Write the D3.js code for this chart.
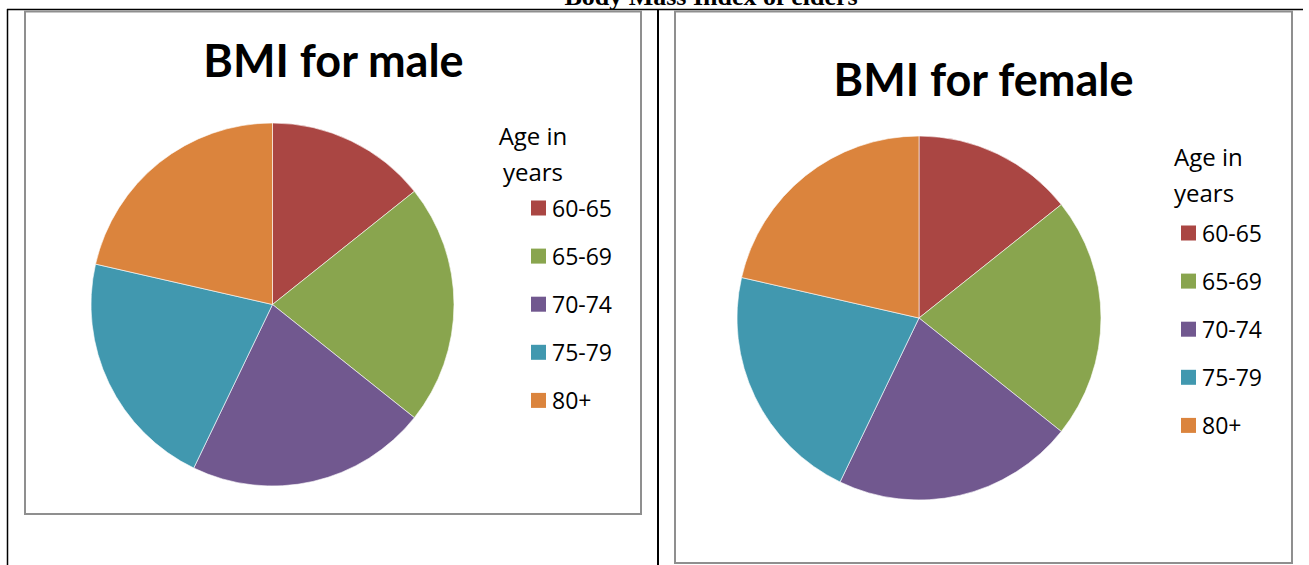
<!DOCTYPE html>
<html>
<head>
<meta charset="utf-8">
<script src="https://cdn.jsdelivr.net/npm/d3@7"></script>
<style>
    body { margin: 0; background: #fff; }
    svg { display: block; }
</style>
</head>
<body>
<svg id="chart"></svg>
<script>
const ageGroups = ["60-65", "65-69", "70-74", "75-79", "80+"]
const maleValues = [2, 3, 3, 3, 3]
const femaleValues = [2, 3, 3, 3, 3]
const sliceColors = ["#AA4643", "#89A54E", "#71588F", "#4198AF", "#DB843D"]

const width = 1309,
    height = 565

const svg = d3.select("#chart")
    .attr("width", width)
    .attr("height", height)

const color = d3.scaleOrdinal()
    .domain(ageGroups)
    .range(sliceColors)

// Document caption, cut off by the top of the page (as in the scan)
svg.append("text")
    .attr("x", 711)
    .attr("y", 5)
    .attr("text-anchor", "middle")
    .style("font-family", "'Liberation Serif', 'Times New Roman', serif")
    .style("font-weight", "bold")
    .style("font-size", "26px")
    .text("Body Mass Index of elders")

// Table lines
const table = svg.append("g")
    .attr("stroke", "#000")
table.append("line").attr("x1", 7).attr("x2", 1303).attr("y1", 9.5).attr("y2", 9.5).attr("stroke-width", 1.5)
table.append("line").attr("x1", 7.5).attr("x2", 7.5).attr("y1", 9).attr("y2", height).attr("stroke-width", 1.5)
table.append("line").attr("x1", 658).attr("x2", 658).attr("y1", 9).attr("y2", height).attr("stroke-width", 2)

const charts = [
    {
        title: "BMI for male", values: maleValues,
        box: [25, 11.5, 641, 514],
        cx: 272.5, cy: 304.5, r: 181.5,
        titleX: 333.5, titleY: 77,
        legendTitle: { x: 533, y: 145, anchor: "middle" },
        legendX: 531, legendY: 208
    },
    {
        title: "BMI for female", values: femaleValues,
        box: [675, 11.5, 1292, 563],
        cx: 919, cy: 318, r: 182,
        titleX: 983.5, titleY: 96,
        legendTitle: { x: 1174, y: 166, anchor: "start" },
        legendX: 1181, legendY: 233
    }
]

const pie = d3.pie()
    .sort(null)
    .value(function (d) { return d.value })

charts.forEach(function (c) {
    const g = svg.append("g")

    // chart area border
    g.append("rect")
        .attr("x", c.box[0])
        .attr("y", c.box[1])
        .attr("width", c.box[2] - c.box[0])
        .attr("height", c.box[3] - c.box[1])
        .attr("fill", "#fff")
        .attr("stroke", "#8f8f8f")
        .attr("stroke-width", 2)

    g.append("text")
        .attr("x", c.titleX)
        .attr("y", c.titleY)
        .attr("text-anchor", "middle")
        .style("font-family", "Lato, 'Open Sans', sans-serif")
        .style("font-weight", "bold")
        .style("font-size", "45px")
        .text(c.title)

    const rows = ageGroups.map(function (a, i) { return { age: a, value: c.values[i] } })
    const arc = d3.arc().innerRadius(0).outerRadius(c.r)

    g.append("g")
        .attr("transform", "translate(" + c.cx + "," + c.cy + ")")
        .selectAll("path")
        .data(pie(rows))
        .enter()
        .append("path")
        .attr("d", arc)
        .attr("fill", function (d) { return color(d.data.age) })
        .attr("stroke", "#fff")
        .attr("stroke-width", 0.6)

    // legend
    const lt = g.append("text")
        .attr("text-anchor", c.legendTitle.anchor)
        .style("font-family", "'Open Sans', sans-serif")
        .style("font-size", "24px")
        .attr("fill", "#000")
    lt.append("tspan").attr("x", c.legendTitle.x).attr("y", c.legendTitle.y).text("Age in")
    lt.append("tspan").attr("x", c.legendTitle.x).attr("y", c.legendTitle.y + 36).text("years")

    const legendY = d3.scalePoint()
        .domain(ageGroups)
        .range([c.legendY, c.legendY + 4 * 48.1])

    const items = g.append("g")
        .selectAll("g")
        .data(ageGroups)
        .enter()
        .append("g")
        .attr("transform", function (d) { return "translate(" + c.legendX + "," + legendY(d) + ")" })

    items.append("rect")
        .attr("x", 0)
        .attr("y", -7.5)
        .attr("width", 15)
        .attr("height", 15)
        .attr("fill", function (d) { return color(d) })

    items.append("text")
        .attr("x", 21)
        .attr("y", 8.5)
        .style("font-family", "'Open Sans', sans-serif")
        .style("font-size", "23px")
        .text(function (d) { return d })
})
</script>
</body>
</html>
